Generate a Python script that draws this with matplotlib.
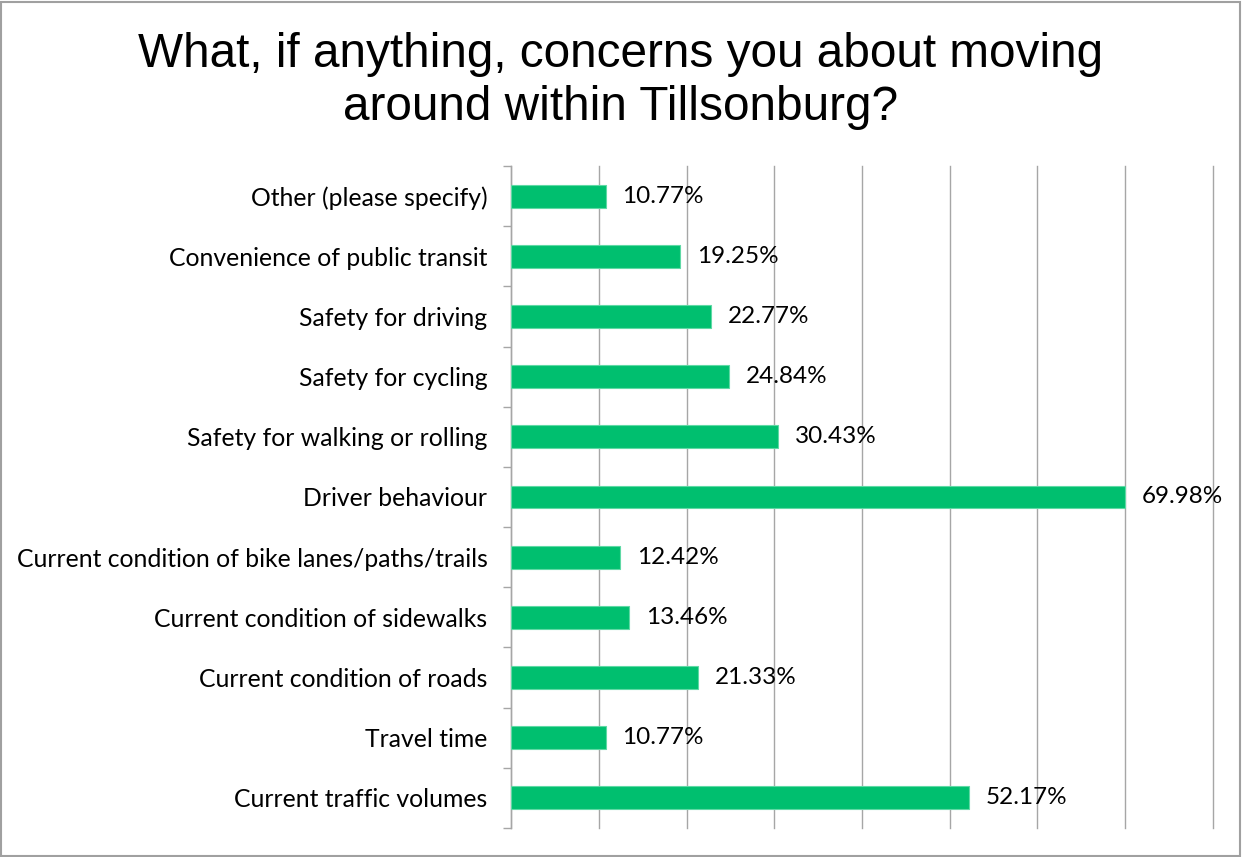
import matplotlib
matplotlib.use("Agg")
import matplotlib.pyplot as plt
from matplotlib.patches import Rectangle

categories = [
    "Current traffic volumes",
    "Travel time",
    "Current condition of roads",
    "Current condition of sidewalks",
    "Current condition of bike lanes/paths/trails",
    "Driver behaviour",
    "Safety for walking or rolling",
    "Safety for cycling",
    "Safety for driving",
    "Convenience of public transit",
    "Other (please specify)",
]
values = [52.17, 10.77, 21.33, 13.46, 12.42, 69.98, 30.43, 24.84, 22.77, 19.25, 10.77]
value_labels = [f"{v:.2f}%" for v in values]
title_lines = ["What, if anything, concerns you about moving", "around within Tillsonburg?"]

W, H = 1242, 857
fig = plt.figure(figsize=(W / 100, H / 100), dpi=100)
fig.patch.set_facecolor("white")
fig.add_artist(Rectangle((0.001, 0.001), 0.997, 0.997, transform=fig.transFigure,
                         fill=False, edgecolor="#A0A0A0", linewidth=1.5))

ax = fig.add_axes([511 / W, 1 - 828 / H, (1213 - 511) / W, (828 - 166) / H])
y = list(range(len(categories)))
ax.barh(y, values, height=0.38, color="#00BF6F", edgecolor="#5FD9A5", linewidth=0.8, zorder=3)

ax.set_xlim(0, 80)
ax.set_ylim(-0.5, len(categories) - 0.5)
ax.set_xticks(range(0, 81, 10))
ax.xaxis.grid(True, color="#A6A6A6", linewidth=1.0, zorder=0)
for gl in ax.get_xgridlines():
    gl.set_clip_on(False)
ax.tick_params(axis="x", length=0, labelbottom=False)

ax.set_yticks(y)
ax.set_yticklabels(categories, fontsize=17.8, family="Lato")
ax.tick_params(axis="y", which="major", length=0, pad=17)
ax.set_yticks([i - 0.5 for i in range(len(categories) + 1)], minor=True)
ax.tick_params(axis="y", which="minor", length=6, color="#A6A6A6", width=1.0, direction="out")

for s in ["top", "right", "bottom"]:
    ax.spines[s].set_visible(False)
ax.spines["left"].set_color("#A6A6A6")
ax.spines["left"].set_linewidth(1.0)

for yi, v, lab in zip(y, values, value_labels):
    ax.annotate(lab, (v, yi), xytext=(12, 0), textcoords="offset points",
                va="center", ha="left", fontsize=17.5, family="Lato", color="black", zorder=4)

for line, base in zip(title_lines, [67, 120]):
    fig.text(0.5, 1 - base / H, line, ha="center", va="baseline", fontsize=34.4,
             family="Liberation Sans")

fig.savefig("out.png", dpi=100)
